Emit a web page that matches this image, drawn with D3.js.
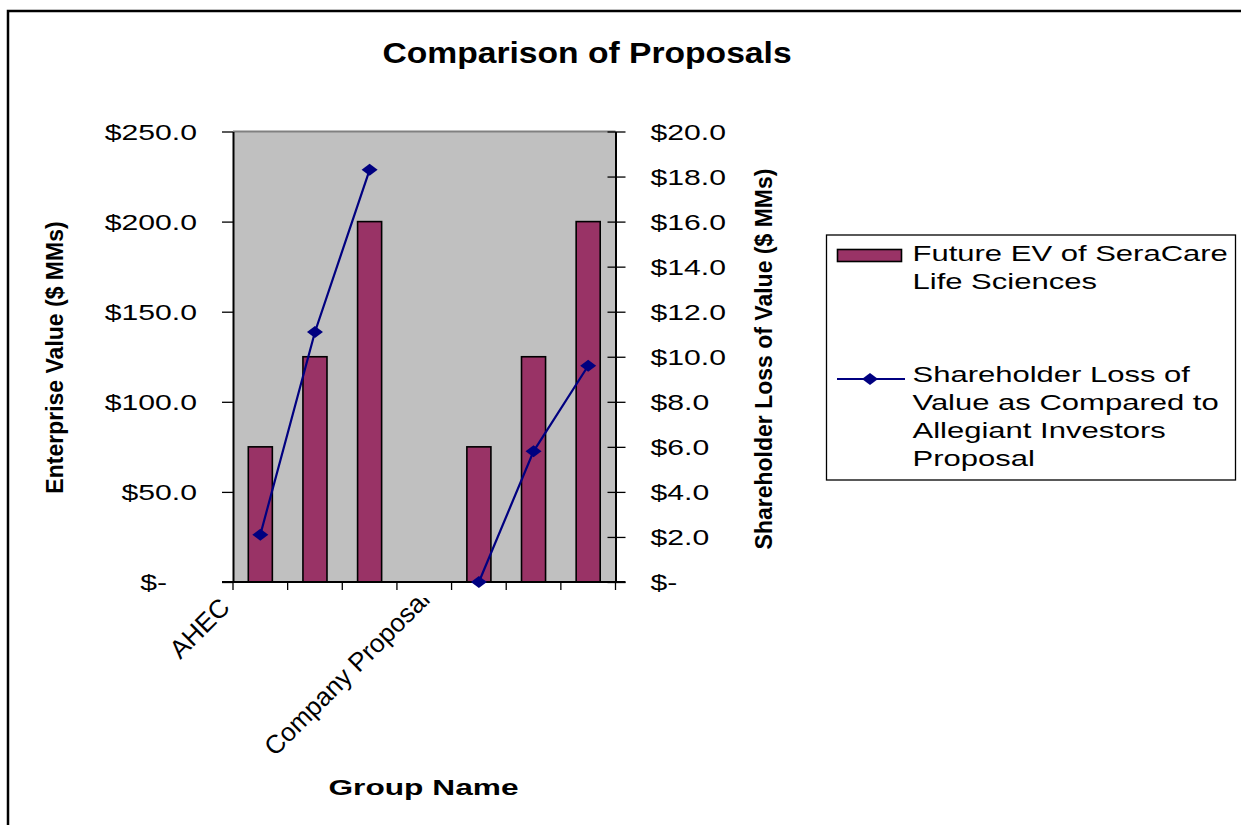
<!DOCTYPE html>
<html><head><meta charset="utf-8">
<script src="https://cdn.jsdelivr.net/npm/d3@7/dist/d3.min.js"></script>
<style>
html,body{margin:0;padding:0;background:#fff;}
svg{display:block;font-family:"Liberation Sans",Arial,sans-serif;}
</style></head>
<body>
<svg id="chart" width="1241" height="825"></svg>
<script>
// ---- data ----
const categories = ["AHEC", "", "", "Company Proposal", "", "", ""];
const futureEV = [75, 125, 200, null, 75, 125, 200];
const shareholderLoss = [2.1, 11.1, 18.3, null, 0, 5.8, 9.6];
const leftTicks = [0, 50, 100, 150, 200, 250];
const rightTicks = [0, 2, 4, 6, 8, 10, 12, 14, 16, 18, 20];
const titleText = "Comparison of Proposals";
const xTitle = "Group Name";
const yLeftTitle = "Enterprise Value ($ MMs)";
const yRightTitle = "Shareholder Loss of Value ($ MMs)";
const legendBar = ["Future EV of SeraCare", "Life Sciences"];
const legendLine = ["Shareholder Loss of", "Value as Compared to", "Allegiant Investors", "Proposal"];

// ---- layout ----
const P = {left: 233, right: 615.5, top: 131.5, bottom: 582};
const SX = 1.4;
const svg = d3.select("#chart");

// outer border
svg.append("path").attr("d", "M8,830 L8,11 L1250,11")
  .attr("fill", "none").attr("stroke", "#000").attr("stroke-width", 2.5);

const x = d3.scaleBand().domain(d3.range(categories.length)).range([P.left, P.right]).paddingInner(0).paddingOuter(0);
const yL = d3.scaleLinear().domain([0, 250]).range([P.bottom, P.top]);
const yR = d3.scaleLinear().domain([0, 20]).range([P.bottom, P.top]);

// plot area
svg.append("rect").attr("x", P.left).attr("y", P.top).attr("width", P.right - P.left).attr("height", P.bottom - P.top)
  .attr("fill", "#c0c0c0");
svg.append("line").attr("x1", P.left).attr("x2", P.right).attr("y1", P.top).attr("y2", P.top)
  .attr("stroke", "#808080").attr("stroke-width", 2);

// bars
const bw = x.bandwidth() * 0.44;
svg.append("g").selectAll("rect").data(futureEV.map((v, i) => ({v, i})).filter(d => d.v != null))
  .join("rect")
  .attr("x", d => x(d.i) + x.bandwidth() / 2 - bw / 2)
  .attr("y", d => yL(d.v))
  .attr("width", bw)
  .attr("height", d => yL(0) - yL(d.v))
  .attr("fill", "#993366").attr("stroke", "#000").attr("stroke-width", 1.6);

// left axis
const gL = svg.append("g").attr("transform", `translate(${P.left},0)`)
  .call(d3.axisLeft(yL).tickValues(leftTicks).tickSize(11).tickSizeOuter(0)
    .tickFormat(d => d === 0 ? "$-" : "$" + d3.format(".1f")(d)));
gL.select(".domain").attr("stroke", "#000").attr("stroke-width", 2);
gL.selectAll(".tick line").attr("stroke", "#000").attr("stroke-width", 1.3);
gL.selectAll(".tick text")
  .attr("x", 0).attr("dy", "0.36em")
  .attr("transform", d => `translate(${d === 0 ? -66 : -36},0) scale(1.37,1)`)
  .attr("font-size", 22).attr("font-family", "Liberation Sans, Arial, sans-serif").attr("fill", "#000");

// right axis
const gR = svg.append("g").attr("transform", `translate(${P.right},0)`)
  .call(d3.axisRight(yR).tickValues(rightTicks).tickSize(10).tickSizeOuter(0)
    .tickFormat(d => d === 0 ? "$-" : "$" + d3.format(".1f")(d)));
gR.select(".domain").attr("stroke", "#000").attr("stroke-width", 2);
gR.selectAll(".tick line").attr("x1", -8).attr("stroke", "#000").attr("stroke-width", 1.3);
gR.selectAll(".tick text")
  .attr("x", 0).attr("dy", "0.36em").attr("text-anchor", "start")
  .attr("transform", `translate(35,0) scale(1.37,1)`)
  .attr("font-size", 22).attr("font-family", "Liberation Sans, Arial, sans-serif").attr("fill", "#000");

// bottom axis
const bounds = d3.range(categories.length + 1).map(i => i < categories.length ? x(i) : x(i - 1) + x.bandwidth());
svg.append("line").attr("x1", P.left - 11).attr("x2", P.right + 10).attr("y1", P.bottom).attr("y2", P.bottom)
  .attr("stroke", "#000").attr("stroke-width", 2);
svg.append("g").selectAll("line").data(bounds).join("line")
  .attr("x1", d => d).attr("x2", d => d).attr("y1", P.bottom).attr("y2", P.bottom + 8)
  .attr("stroke", "#000").attr("stroke-width", 1.3);

// category labels (rotated, clipped like the original)
svg.append("clipPath").attr("id", "catclip").append("rect")
  .attr("x", 0).attr("y", 598).attr("width", 1241).attr("height", 227);
const labelShift = {0: [-29, 609], 3: [7, 601]};
svg.append("g").attr("clip-path", "url(#catclip)").selectAll("text")
  .data(categories.map((c, i) => ({c, i})).filter(d => d.c !== ""))
  .join("text")
  .attr("transform", d => `translate(${x(d.i) + x.bandwidth() / 2 + labelShift[d.i][0]},${labelShift[d.i][1]}) rotate(-45)`)
  .attr("text-anchor", "end").attr("font-size", 26).attr("fill", "#000")
  .text(d => d.c);

// line series
const pts = shareholderLoss.map((v, i) => ({v, i}));
const line = d3.line().defined(d => d.v != null)
  .x(d => x(d.i) + x.bandwidth() / 2).y(d => yR(d.v));
svg.append("path").datum(pts).attr("d", line)
  .attr("fill", "none").attr("stroke", "#000080").attr("stroke-width", 2.2);
const diamond = "M-8,0 L0,-6 L8,0 L0,6 Z";
svg.append("g").selectAll("path").data(pts.filter(d => d.v != null)).join("path")
  .attr("transform", d => `translate(${x(d.i) + x.bandwidth() / 2},${yR(d.v)})`)
  .attr("d", diamond).attr("fill", "#000080");

// titles
svg.append("text").attr("transform", "translate(587,63) scale(1.16,1)")
  .attr("text-anchor", "middle").attr("font-size", 29).attr("font-weight", "bold").text(titleText);
svg.append("text").attr("transform", "translate(423.5,795) scale(1.44,1)")
  .attr("text-anchor", "middle").attr("font-size", 22).attr("font-weight", "bold").text(xTitle);
svg.append("text").attr("transform", "translate(63,357.5) rotate(-90)")
  .attr("text-anchor", "middle").attr("font-size", 23).attr("font-weight", "bold").text(yLeftTitle);
svg.append("text").attr("transform", "translate(772,359) rotate(-90)")
  .attr("text-anchor", "middle").attr("font-size", 23).attr("font-weight", "bold").text(yRightTitle);

// legend
const lg = svg.append("g");
lg.append("rect").attr("x", 826.5).attr("y", 235).attr("width", 409).attr("height", 245)
  .attr("fill", "#fff").attr("stroke", "#000").attr("stroke-width", 1.3);
lg.append("rect").attr("x", 837.5).attr("y", 249.5).attr("width", 64).attr("height", 12)
  .attr("fill", "#993366").attr("stroke", "#000").attr("stroke-width", 1.6);
legendBar.forEach((t, k) => {
  lg.append("text").attr("transform", `translate(912.5,${261 + k * 27.5}) scale(1.41,1)`)
    .attr("font-size", 22).attr("fill", "#000").text(t);
});
lg.append("line").attr("x1", 837).attr("x2", 905).attr("y1", 379).attr("y2", 379)
  .attr("stroke", "#000080").attr("stroke-width", 2);
lg.append("path").attr("transform", "translate(870,379)").attr("d", diamond).attr("fill", "#000080");
legendLine.forEach((t, k) => {
  lg.append("text").attr("transform", `translate(912.5,${381.5 + k * 28}) scale(1.41,1)`)
    .attr("font-size", 22).attr("fill", "#000").text(t);
});
</script>
</body></html>
